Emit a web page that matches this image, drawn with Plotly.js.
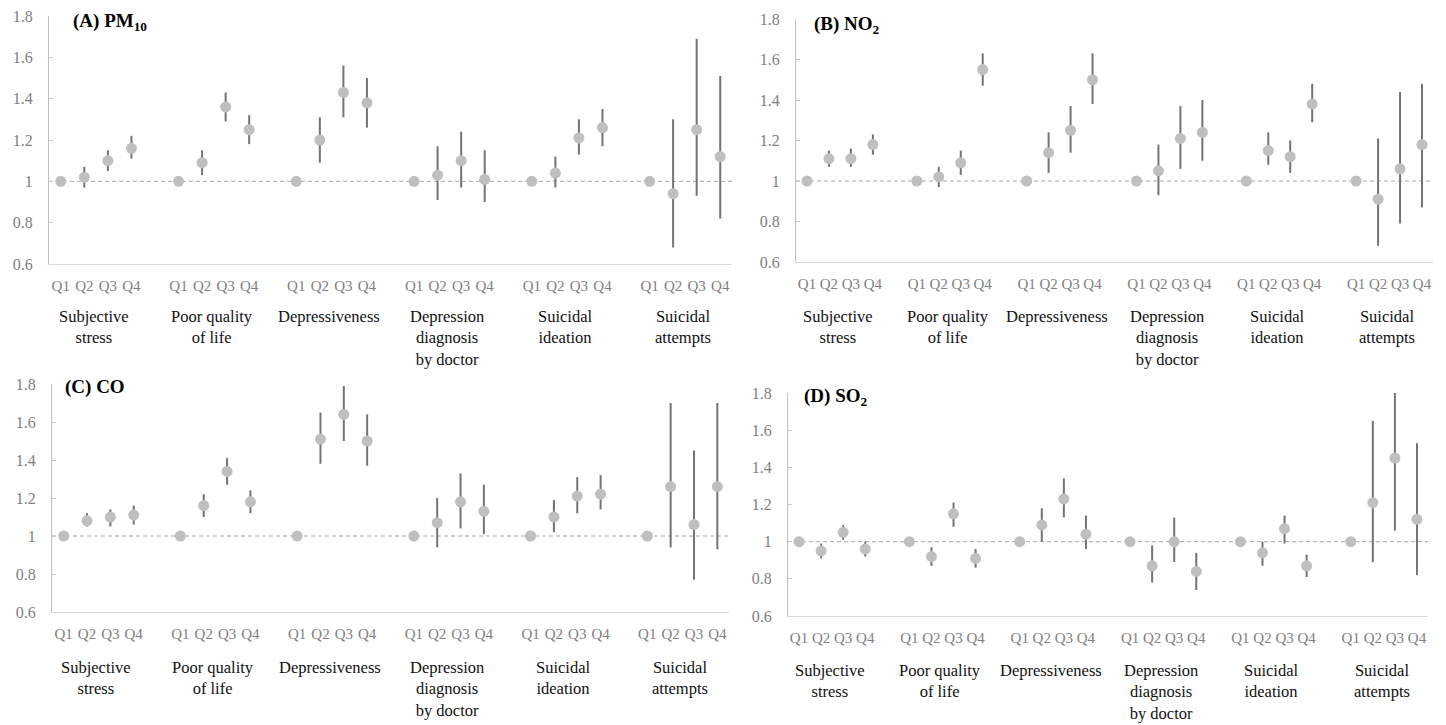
<!DOCTYPE html>
<html>
<head>
<meta charset="utf-8">
<script src="https://cdn.plot.ly/plotly-3.0.1.min.js"></script>
<style>html,body{margin:0;padding:0;background:#fff;}#chart{width:1446px;height:725px;}</style>
</head>
<body>
<div id="chart"></div>
<script>
// ---- data ----
const quarters = ['Q1', 'Q2', 'Q3', 'Q4'];
const outcomes = ['Subjective<br>stress', 'Poor quality<br>of life', 'Depressiveness',
  'Depression<br>diagnosis<br>by doctor', 'Suicidal<br>ideation', 'Suicidal<br>attempts'];
const yTickVals = [0.6, 0.8, 1, 1.2, 1.4, 1.6, 1.8];
const yTickText = ['0.6', '0.8', '1', '1.2', '1.4', '1.6', '1.8'];

// (A) PM10 : odds ratios and 95% CI, Q1..Q4 for each outcome
const pm10OR = [1, 1.02, 1.10, 1.16,  1, 1.09, 1.36, 1.25,  1, 1.20, 1.43, 1.38,  1, 1.03, 1.10, 1.01,  1, 1.04, 1.21, 1.26,  1, 0.94, 1.25, 1.12];
const pm10Lo = [1, 0.97, 1.05, 1.11,  1, 1.03, 1.29, 1.18,  1, 1.09, 1.31, 1.26,  1, 0.91, 0.97, 0.90,  1, 0.97, 1.13, 1.17,  1, 0.68, 0.93, 0.82];
const pm10Hi = [1, 1.07, 1.15, 1.22,  1, 1.15, 1.43, 1.32,  1, 1.31, 1.56, 1.50,  1, 1.17, 1.24, 1.15,  1, 1.12, 1.30, 1.35,  1, 1.30, 1.69, 1.51];

// (B) NO2
const no2OR = [1, 1.11, 1.11, 1.18,  1, 1.02, 1.09, 1.55,  1, 1.14, 1.25, 1.50,  1, 1.05, 1.21, 1.24,  1, 1.15, 1.12, 1.38,  1, 0.91, 1.06, 1.18];
const no2Lo = [1, 1.07, 1.07, 1.13,  1, 0.97, 1.03, 1.47,  1, 1.04, 1.14, 1.38,  1, 0.93, 1.06, 1.10,  1, 1.08, 1.04, 1.29,  1, 0.68, 0.79, 0.87];
const no2Hi = [1, 1.15, 1.16, 1.23,  1, 1.07, 1.15, 1.63,  1, 1.24, 1.37, 1.63,  1, 1.18, 1.37, 1.40,  1, 1.24, 1.20, 1.48,  1, 1.21, 1.44, 1.48];

// (C) CO
const coOR = [1, 1.08, 1.10, 1.11,  1, 1.16, 1.34, 1.18,  1, 1.51, 1.64, 1.50,  1, 1.07, 1.18, 1.13,  1, 1.10, 1.21, 1.22,  1, 1.26, 1.06, 1.26];
const coLo = [1, 1.05, 1.05, 1.06,  1, 1.10, 1.27, 1.12,  1, 1.38, 1.50, 1.37,  1, 0.94, 1.04, 1.01,  1, 1.02, 1.12, 1.14,  1, 0.94, 0.77, 0.93];
const coHi = [1, 1.12, 1.14, 1.16,  1, 1.22, 1.41, 1.24,  1, 1.65, 1.79, 1.64,  1, 1.20, 1.33, 1.27,  1, 1.19, 1.31, 1.32,  1, 1.70, 1.45, 1.70];

// (D) SO2
const so2OR = [1, 0.95, 1.05, 0.96,  1, 0.92, 1.15, 0.91,  1, 1.09, 1.23, 1.04,  1, 0.87, 1.00, 0.84,  1, 0.94, 1.07, 0.87,  1, 1.21, 1.45, 1.12];
const so2Lo = [1, 0.91, 1.01, 0.92,  1, 0.87, 1.08, 0.86,  1, 1.00, 1.13, 0.96,  1, 0.78, 0.89, 0.74,  1, 0.87, 0.99, 0.81,  1, 0.89, 1.06, 0.82];
const so2Hi = [1, 0.99, 1.09, 1.00,  1, 0.97, 1.21, 0.96,  1, 1.18, 1.34, 1.14,  1, 0.98, 1.13, 0.94,  1, 1.00, 1.14, 0.93,  1, 1.65, 1.80, 1.53];

const panelTitles = ['(A) PM<sub>10</sub>', '(B) NO<sub>2</sub>', '(C) CO', '(D) SO<sub>2</sub>'];

// ---- layout helpers ----
const W = 1446, H = 725;
const panels = [
  {or: pm10OR, lo: pm10Lo, hi: pm10Hi, px: [49, 732],  py: [16, 264],  title: [71, 22],  lab: 305},
  {or: no2OR,  lo: no2Lo,  hi: no2Hi,  px: [796, 1433], py: [19, 262], title: [812, 25], lab: 305},
  {or: coOR,   lo: coLo,   hi: coHi,   px: [52, 729],  py: [384, 612], title: [63, 387], lab: 656},
  {or: so2OR,  lo: so2Lo,  hi: so2Hi,  px: [788, 1428], py: [393, 616], title: [802, 397], lab: 659}
];

const pos = (g, q) => g * 5 + q;
const tickPos = [], tickTxt = [];
outcomes.forEach((o, g) => quarters.forEach((q, k) => { tickPos.push(pos(g, k)); tickTxt.push(q); }));

const serif = 'Liberation Serif, Times New Roman, serif';
const xTickFont = {family: serif, size: 15, color: '#808080'};
const yTickFont = {family: serif, size: 16, color: '#808080'};
const data = [], shapes = [], annotations = [];
const layout = {
  width: W, height: H, margin: {l: 0, r: 0, t: 0, b: 0},
  paper_bgcolor: '#fff', plot_bgcolor: '#fff', showlegend: false,
  shapes: shapes, annotations: annotations
};

panels.forEach((p, i) => {
  const sfx = i === 0 ? '' : String(i + 1);
  const x = [], plus = [], minus = [];
  p.or.forEach((v, j) => {
    x.push(pos(Math.floor(j / 4), j % 4));
    plus.push(p.hi[j] - v);
    minus.push(v - p.lo[j]);
  });
  data.push({
    type: 'scatter', mode: 'markers', x: x, y: p.or,
    xaxis: 'x' + sfx, yaxis: 'y' + sfx, cliponaxis: false, hoverinfo: 'skip',
    marker: {size: 11, color: '#bfbfbf'},
    error_y: {type: 'data', symmetric: false, array: plus, arrayminus: minus,
              thickness: 2, width: 0, color: '#737373'}
  });
  layout['xaxis' + sfx] = {
    domain: [p.px[0] / W, p.px[1] / W], range: [-0.5, 28.5], anchor: 'y' + sfx,
    tickmode: 'array', tickvals: tickPos, ticktext: tickTxt, ticks: '',
    ticklabelstandoff: 8,
    showline: true, linecolor: '#d9d9d9', linewidth: 1,
    showgrid: false, zeroline: false, tickfont: xTickFont, fixedrange: true
  };
  layout['yaxis' + sfx] = {
    domain: [1 - p.py[1] / H, 1 - p.py[0] / H], range: [0.6, 1.8], anchor: 'x' + sfx,
    tickmode: 'array', tickvals: yTickVals, ticktext: yTickText,
    ticks: 'inside', ticklen: 4, tickcolor: '#c8c8c8', tickwidth: 1,
    ticklabelstandoff: 12,
    showline: true, linecolor: '#c0c0c0', linewidth: 1,
    showgrid: false, zeroline: false, tickfont: yTickFont, fixedrange: true
  };
  shapes.push({
    type: 'line', layer: 'below', xref: 'x' + sfx + ' domain', yref: 'y' + sfx,
    x0: 0, x1: 1, y0: 1, y1: 1, line: {color: '#a6a6a6', width: 1, dash: '4px,3px'}
  });
  annotations.push({
    xref: 'paper', yref: 'paper', x: p.title[0] / W, y: 1 - p.title[1] / H,
    xanchor: 'left', yanchor: 'middle', showarrow: false,
    text: '<b>' + panelTitles[i] + '</b>',
    font: {family: serif, size: 19, color: '#000'}
  });
  outcomes.forEach((o, g) => {
    annotations.push({
      xref: 'x' + sfx, yref: 'paper', x: pos(g, 1.4), y: 1 - p.lab / H,
      xanchor: 'center', yanchor: 'top', showarrow: false, align: 'center',
      text: o, font: {family: serif, size: 16.5, color: '#111'}
    });
  });
});

Plotly.newPlot('chart', data, layout, {displayModeBar: false, staticPlot: true});
</script>
</body>
</html>
